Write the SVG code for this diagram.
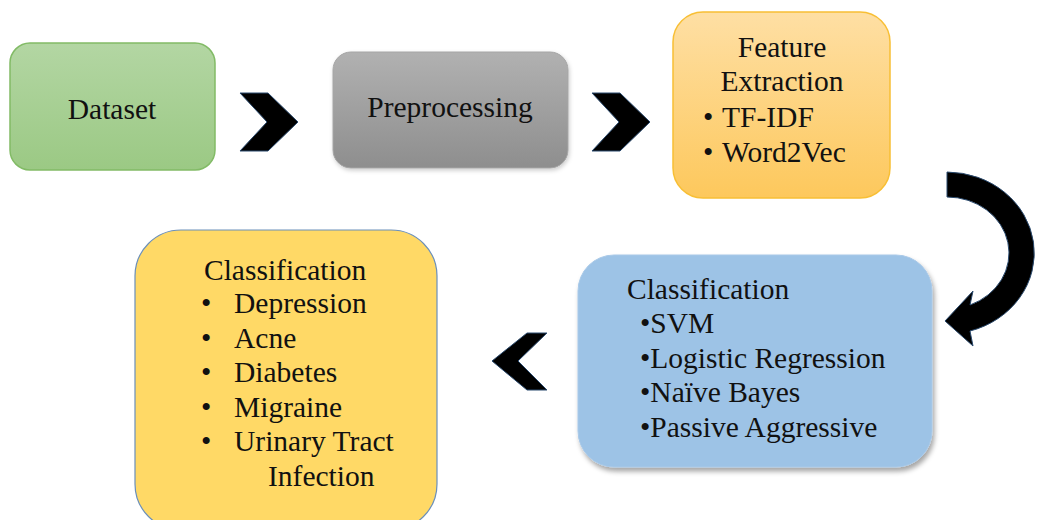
<svg xmlns="http://www.w3.org/2000/svg" width="1037" height="520" viewBox="0 0 1037 520">
  <defs>
    <linearGradient id="gGreen" x1="0" y1="0" x2="0" y2="1">
      <stop offset="0" stop-color="#b3d6a3"/>
      <stop offset="1" stop-color="#9bc984"/>
    </linearGradient>
    <linearGradient id="gGray" x1="0" y1="0" x2="0" y2="1">
      <stop offset="0" stop-color="#b1b1b1"/>
      <stop offset="1" stop-color="#8e8e8e"/>
    </linearGradient>
    <linearGradient id="gOrange" x1="0" y1="0" x2="0" y2="1">
      <stop offset="0" stop-color="#fedfa4"/>
      <stop offset="1" stop-color="#fdc85c"/>
    </linearGradient>
    <filter id="shadow" x="-10%" y="-10%" width="125%" height="130%">
      <feDropShadow dx="2" dy="4" stdDeviation="2.5" flood-color="#000" flood-opacity="0.35"/>
    </filter>
    <filter id="softShadow" x="-10%" y="-10%" width="125%" height="130%">
      <feDropShadow dx="1" dy="2" stdDeviation="2" flood-color="#000" flood-opacity="0.2"/>
    </filter>
  </defs>
  <style>
    text { font-family: 'Liberation Serif', 'Tinos', 'DejaVu Serif', serif; font-size: 29.5px; fill: #111; }
    .mid { text-anchor: middle; }
    .arrow { fill: #000; stroke: #2a4a6e; stroke-width: 1; stroke-linejoin: miter; }
  </style>

  <rect width="1037" height="520" fill="#fff"/>

  <!-- flow arrows -->
  <g id="connectors">
    <polygon class="arrow" points="240,93 268,93 298,122 268,151 240,151 267,122"/>
    <polygon class="arrow" points="592,93 620,93 650,122 620,151 592,151 619,122"/>
    <path class="arrow" d="M947,172 A88,81 0 0 1 970,331 L973,346 L945,321 L973,291 L970,305 A62,56 0 0 0 947,197 Z"/>
    <polygon class="arrow" points="547,333 527,333 492,361 527,390 547,390 518,361"/>
  </g>

  <g id="dataset">
    <rect x="10" y="43" width="205" height="127" rx="20" fill="url(#gGreen)" stroke="#82bb66" stroke-width="1.5"/>
    <text x="112" y="119" class="mid">Dataset</text>
  </g>

  <g id="preprocessing">
    <rect x="333" y="52" width="235" height="116" rx="18" fill="url(#gGray)" stroke="#a6a6a6" stroke-width="1" filter="url(#softShadow)"/>
    <text x="450" y="117" class="mid">Preprocessing</text>
  </g>

  <g id="feature-extraction">
    <rect x="673" y="12" width="217" height="186" rx="30" fill="url(#gOrange)" stroke="#f8bf35" stroke-width="1.5"/>
    <text x="782" y="57" class="mid">Feature</text>
    <text x="782" y="91" class="mid">Extraction</text>
    <text x="703" y="127">•</text>
    <text x="722" y="127">TF-IDF</text>
    <text x="703" y="162">•</text>
    <text x="722" y="162">Word2Vec</text>
  </g>

  <g id="classification-models">
    <rect x="578" y="255" width="354" height="212" rx="36" fill="#9dc3e6" stroke="#a9c9e8" stroke-width="1" filter="url(#shadow)"/>
    <text x="627" y="299">Classification</text>
    <text x="640" y="333">•SVM</text>
    <text x="640" y="368">•Logistic Regression</text>
    <text x="640" y="402">•Naïve Bayes</text>
    <text x="640" y="437">•Passive Aggressive</text>
  </g>

  <g id="classification-diseases">
    <rect x="135" y="230" width="302" height="300" rx="46" fill="#ffd966" stroke="#6b8fb9" stroke-width="1.2"/>
    <text x="204" y="280">Classification</text>
    <text x="201" y="313">•</text>
    <text x="234" y="313">Depression</text>
    <text x="201" y="348">•</text>
    <text x="234" y="348">Acne</text>
    <text x="201" y="382">•</text>
    <text x="234" y="382">Diabetes</text>
    <text x="201" y="417">•</text>
    <text x="234" y="417">Migraine</text>
    <text x="201" y="451">•</text>
    <text x="234" y="451">Urinary Tract</text>
    <text x="268" y="486">Infection</text>
  </g>
</svg>
